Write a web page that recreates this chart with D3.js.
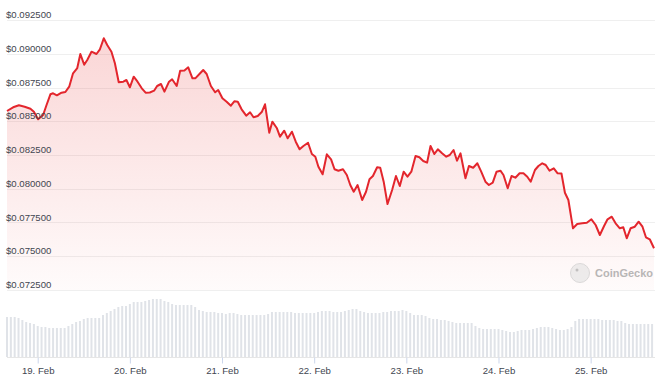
<!DOCTYPE html>
<html>
<head>
<meta charset="utf-8">
<script src="https://cdn.jsdelivr.net/npm/d3@7"></script>
<style>
  body { margin: 0; background: #fff; }
  svg { display: block; font-family: "Liberation Sans", Arial, sans-serif; }
</style>
</head>
<body>
<svg id="chart" width="664" height="380"></svg>
<script>
// hours from 19 Feb 00:00 (UTC) for each price point
const priceHours = [
  -8.0, -6.4, -4.9, -3.4, -1.9, -1.0, 0.1, 0.7, 1.4, 2.3, 3.3, 4.0, 5.0, 6.2, 7.2, 8.2,
  9.2, 10.3, 11.1, 12.1, 12.9, 14.0, 15.3, 16.2, 17.2, 18.1, 19.2, 20.1, 21.1, 22.3, 23.1, 24.0,
  25.0, 26.0, 27.1, 28.1, 29.2, 30.3, 31.1, 32.1, 33.0, 34.2, 35.0, 36.2, 37.1, 38.2, 39.2, 40.3,
  41.1, 42.3, 43.1, 44.0, 45.1, 46.2, 47.0, 48.1, 49.2, 50.3, 51.2, 52.1, 53.1, 54.3, 55.3, 56.2,
  57.3, 58.4, 59.2, 60.3, 61.1, 62.3, 63.1, 64.2, 65.1, 66.2, 67.2, 68.2, 69.2, 70.4, 71.4, 72.3,
  73.1, 74.2, 75.3, 76.4, 77.3, 78.3, 79.5, 80.5, 81.4, 82.3, 83.3, 84.5, 85.5, 86.4, 87.3, 88.4,
  89.2, 90.1, 91.1, 92.3, 93.3, 94.3, 95.3, 96.3, 97.3, 98.4, 99.4, 100.4, 101.4, 102.3, 103.3, 104.2,
  105.3, 106.4, 107.3, 108.3, 109.2, 110.1, 111.4, 112.3, 113.4, 114.5, 115.5, 116.6, 117.5, 118.5, 119.5, 120.5,
  121.3, 122.4, 123.4, 124.4, 125.5, 126.5, 127.5, 128.4, 129.5, 130.4, 131.4, 132.3, 133.3, 134.4, 135.4, 136.4,
  137.3, 138.2, 139.4, 140.5, 141.8, 143.0, 144.2, 145.3, 146.4, 147.5, 148.4, 149.5, 150.5, 151.6, 152.5, 153.4,
  154.4, 155.5, 156.5, 157.5, 158.4, 159.4, 160.5
];

const prices = [
  0.085759, 0.086033, 0.086181, 0.086078, 0.085930, 0.085707, 0.085144, 0.085293, 0.085463, 0.086204, 0.086996, 0.087070, 0.086922, 0.087115, 0.087167, 0.087559,
  0.088552, 0.088944, 0.089981, 0.089189, 0.089537, 0.090152, 0.089981, 0.090330, 0.091144, 0.090648, 0.090152, 0.089293, 0.087885, 0.087930, 0.088056, 0.087515,
  0.088300, 0.087930, 0.087441, 0.087115, 0.087130, 0.087263, 0.087611, 0.087759, 0.087189, 0.087930, 0.088107, 0.087611, 0.088744, 0.088760, 0.088996, 0.088181,
  0.088190, 0.088552, 0.088796, 0.088500, 0.087611, 0.087144, 0.087315, 0.086700, 0.086448, 0.086152, 0.086478, 0.086448, 0.085885, 0.085411, 0.085663, 0.085293,
  0.085389, 0.085707, 0.086256, 0.084152, 0.084967, 0.084478, 0.083856, 0.084300, 0.083737, 0.084226, 0.083485, 0.082922, 0.083167, 0.083411, 0.082574, 0.082374,
  0.081633, 0.081070, 0.082552, 0.082181, 0.081441, 0.081337, 0.081441, 0.081019, 0.080278, 0.079781, 0.080278, 0.079167, 0.079781, 0.080700, 0.080944, 0.081589,
  0.081559, 0.080522, 0.078870, 0.079907, 0.080944, 0.080204, 0.081263, 0.080893, 0.081263, 0.082426, 0.082330, 0.082056, 0.081930, 0.083167, 0.082574, 0.082922,
  0.082626, 0.082374, 0.082500, 0.082870, 0.082078, 0.082626, 0.080774, 0.081685, 0.081559, 0.081885, 0.081263, 0.080522, 0.080278, 0.080448, 0.081263, 0.081337,
  0.081019, 0.080033, 0.080944, 0.080819, 0.081144, 0.081144, 0.080893, 0.080522, 0.081389, 0.081685, 0.081885, 0.081759, 0.081337, 0.081515, 0.081144, 0.081130,
  0.079707, 0.079167, 0.077070, 0.077389, 0.077441, 0.077485, 0.077737, 0.077315, 0.076574, 0.077241, 0.077737, 0.077930, 0.077441, 0.077070, 0.077144, 0.076330,
  0.077070, 0.077189, 0.077559, 0.077189, 0.076404, 0.076256, 0.075589
];

// hourly volume bars, first bar at hour -8
const volumeStartHour = -8;
const volumes = [
  40, 40, 40, 39, 37, 35, 34, 33, 31, 30, 30, 29, 29, 29, 29, 29,
  31, 33, 35, 36, 38, 39, 39, 39, 39, 42, 44, 46, 48, 50, 51, 51,
  53, 55, 55, 55, 56, 57, 58, 58, 58, 56, 55, 53, 52, 52, 52, 52,
  52, 50, 47, 46, 45, 45, 45, 44, 44, 43, 44, 44, 43, 42, 42, 42,
  42, 42, 42, 42, 43, 45, 45, 45, 45, 45, 45, 44, 44, 44, 44, 44,
  44, 45, 46, 46, 46, 45, 45, 45, 46, 47, 48, 48, 46, 45, 44, 44,
  44, 44, 45, 45, 46, 46, 46, 47, 46, 44, 42, 42, 42, 41, 39, 38,
  38, 37, 37, 36, 35, 34, 34, 34, 34, 34, 31, 29, 28, 28, 28, 28,
  28, 27, 26, 25, 25, 26, 27, 27, 27, 28, 29, 30, 30, 30, 29, 28,
  27, 27, 28, 30, 36, 38, 38, 38, 38, 38, 38, 37, 37, 37, 37, 36,
  36, 34, 33, 33, 33, 33, 33, 33, 33
];

const priceTicks = [0.0725, 0.075, 0.0775, 0.08, 0.0825, 0.085, 0.0875, 0.09, 0.0925];

const base = Date.UTC(2024, 1, 19);
const hourToDate = h => new Date(base + h * 3600e3);

const priceData = priceHours.map((h, i) => ({ t: hourToDate(h), v: prices[i] }));
const volumeData = volumes.map((v, i) => ({ t: hourToDate(volumeStartHour + i), v: v }));

const svg = d3.select("#chart");

const x = d3.scaleUtc()
    .domain(d3.extent(priceData, d => d.t))
    .range([7, 654]);

const y = d3.scaleLinear()
    .domain([0.0725, 0.0925])
    .range([290, 20]);

const yVol = d3.scaleLinear()
    .domain([0, 60])
    .range([357, 297]);

// gridlines
svg.append("g").selectAll("line")
    .data(priceTicks)
    .join("line")
    .attr("x1", 7).attr("x2", 655)
    .attr("y1", d => Math.round(y(d)) + 0.5)
    .attr("y2", d => Math.round(y(d)) + 0.5)
    .attr("stroke", "#efefef");

// gradient for area
const defs = svg.append("defs");
const grad = defs.append("linearGradient")
    .attr("id", "areaGrad")
    .attr("gradientUnits", "userSpaceOnUse")
    .attr("x1", 0).attr("x2", 0)
    .attr("y1", y(0.0912)).attr("y2", y(0.0725));
grad.append("stop").attr("offset", 0).attr("stop-color", "rgb(232,60,60)").attr("stop-opacity", 0.21);
grad.append("stop").attr("offset", 1).attr("stop-color", "rgb(232,60,60)").attr("stop-opacity", 0.02);

// volume bars
svg.append("g").selectAll("rect")
    .data(volumeData)
    .join("rect")
    .attr("x", d => x(d.t) - 1)
    .attr("width", 2)
    .attr("y", d => yVol(d.v))
    .attr("height", d => yVol(0) - yVol(d.v))
    .attr("fill", "#e0e3e8");

// area + line
const area = d3.area()
    .x(d => x(d.t))
    .y0(y(0.0725))
    .y1(d => y(d.v));

const line = d3.line()
    .x(d => x(d.t))
    .y(d => y(d.v));

svg.append("path")
    .datum(priceData)
    .attr("d", area)
    .attr("fill", "url(#areaGrad)");

svg.append("path")
    .datum(priceData)
    .attr("d", line)
    .attr("fill", "none")
    .attr("stroke", "#e3262d")
    .attr("stroke-width", 2)
    .attr("stroke-linejoin", "round");

// y labels (drawn after so they sit over the fill)
svg.append("g").selectAll("text")
    .data(priceTicks)
    .join("text")
    .attr("x", 6)
    .attr("y", d => y(d) - 2)
    .attr("font-size", 9.6)
    .attr("fill", "#3f4650")
    .text(d => d3.format("$.6f")(d));

// x axis
const xAxis = d3.axisBottom(x)
    .ticks(d3.utcDay.every(1))
    .tickFormat(d3.utcFormat("%-d. %b"))
    .tickSize(6)
    .tickPadding(4);

const gx = svg.append("g")
    .attr("transform", "translate(0,357.5)")
    .call(xAxis);
gx.select(".domain").attr("stroke", "#e6e6e6").attr("d", "M7,0H655");
gx.selectAll(".tick line").attr("stroke", "#ccd6eb");
gx.selectAll(".tick text")
    .attr("font-size", 9.6)
    .attr("fill", "#3f4650")
    .attr("font-family", "Liberation Sans, Arial, sans-serif");

// CoinGecko watermark
const wm = svg.append("g").attr("opacity", 0.6);
wm.append("circle").attr("cx", 580).attr("cy", 273).attr("r", 9.5)
    .attr("fill", "#e2e2e2").attr("stroke", "#c4c4c4").attr("stroke-width", 1);
wm.append("circle").attr("cx", 577).attr("cy", 270).attr("r", 1.5).attr("fill", "#9a9a9a");
wm.append("text")
    .attr("x", 595).attr("y", 277)
    .attr("font-size", 11)
    .attr("font-weight", "bold")
    .attr("fill", "#8a8a8a")
    .text("CoinGecko");
</script>
</body>
</html>
